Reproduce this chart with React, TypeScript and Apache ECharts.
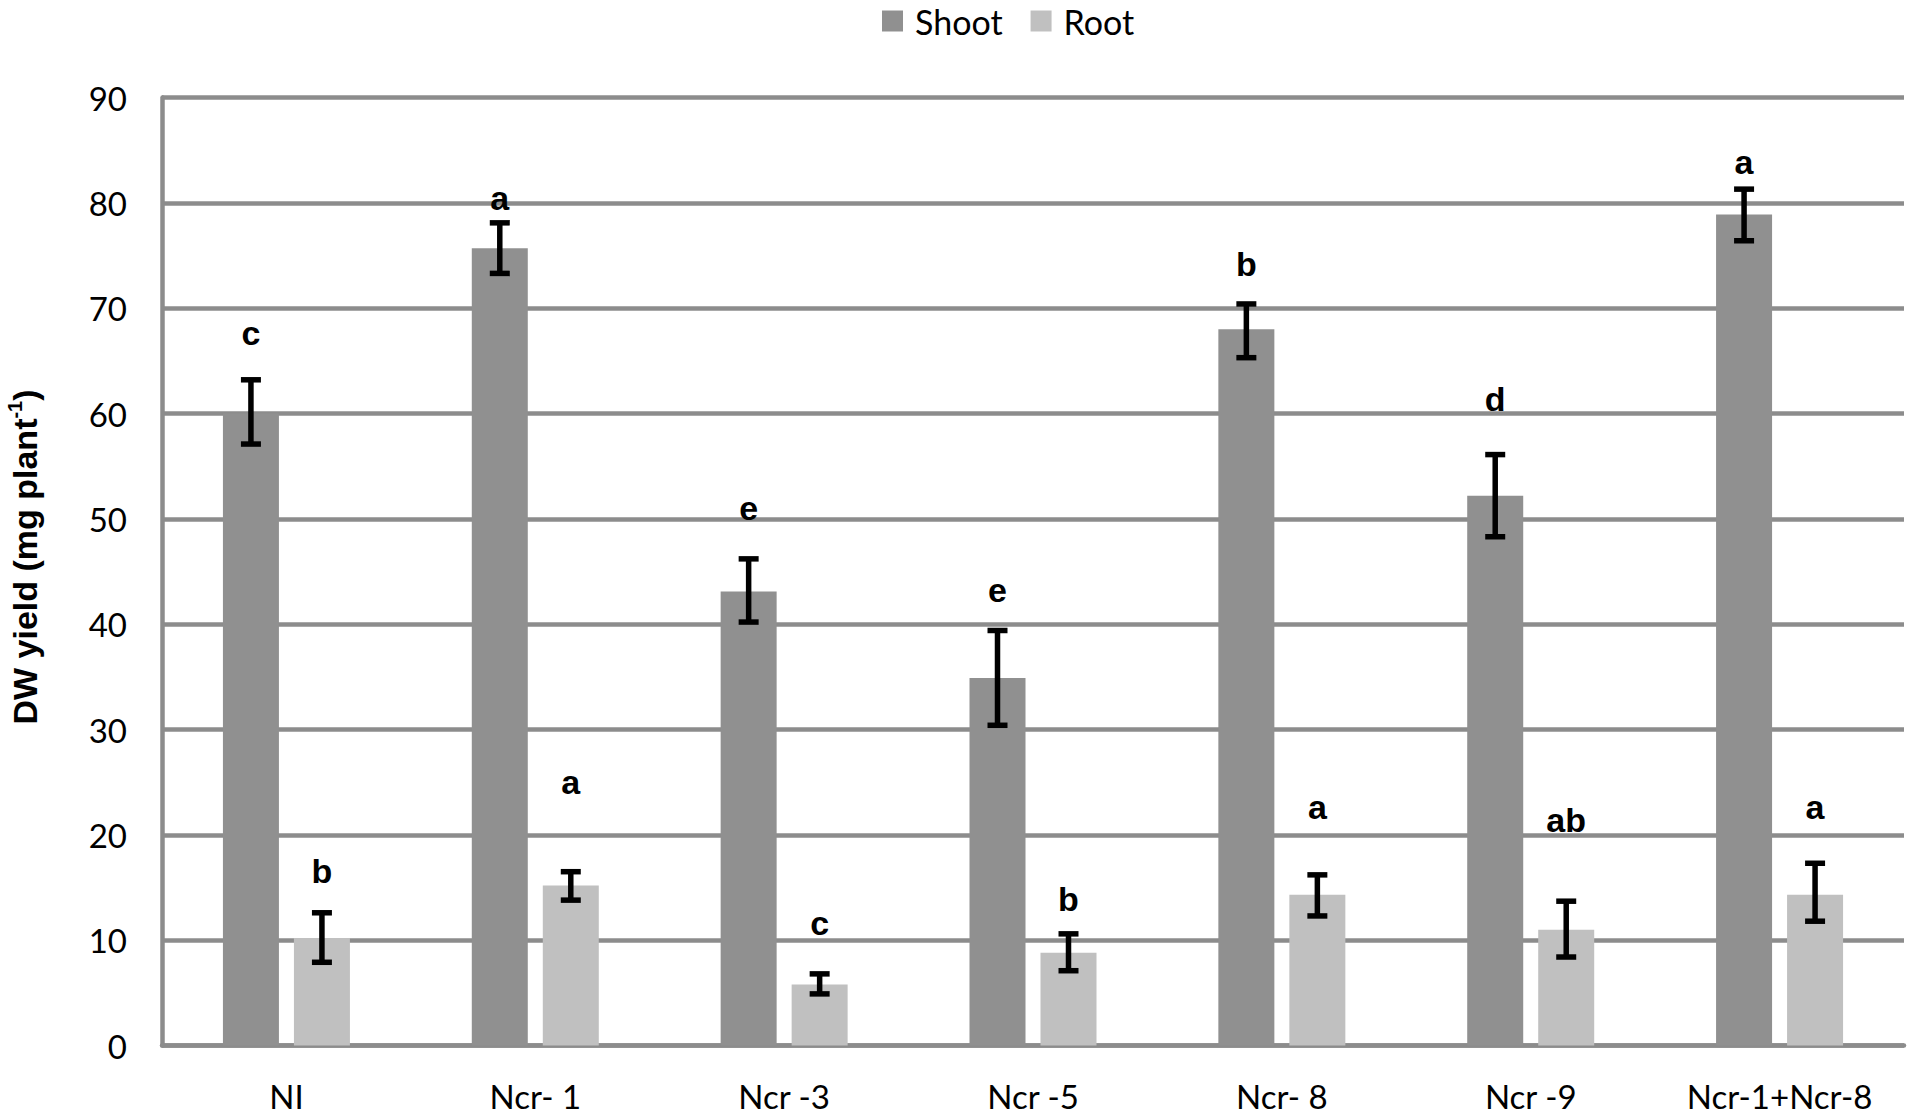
import React, { useEffect, useRef } from "react";
import * as echarts from "echarts";

const categories = ["NI", "Ncr- 1", "Ncr -3", "Ncr -5", "Ncr- 8", "Ncr -9", "Ncr-1+Ncr-8"];
const shootValues = [60.0, 75.7, 43.1, 34.9, 68.0, 52.2, 78.9];
const shootErrLow = [57.1, 73.3, 40.2, 30.4, 65.3, 48.3, 76.4];
const shootErrHigh = [63.2, 78.1, 46.2, 39.4, 70.4, 56.1, 81.3];
const shootLetters = ["c", "a", "e", "e", "b", "d", "a"];
const shootLetterY = [67.6, 80.5, 51.0, 43.2, 74.2, 61.4, 83.9];

const rootValues = [10.2, 15.2, 5.8, 8.8, 14.3, 11.0, 14.3];
const rootErrLow = [7.9, 13.8, 4.9, 7.1, 12.3, 8.4, 11.8];
const rootErrHigh = [12.6, 16.5, 6.8, 10.6, 16.2, 13.7, 17.3];
const rootLetters = ["b", "a", "c", "b", "a", "ab", "a"];
const rootLetterY = [16.6, 25.0, 11.6, 13.9, 22.6, 21.4, 22.6];

const yTicks = { min: 0, max: 90, interval: 10 };
const yTitle = "{b|DW yield (mg plant}{s|-1}{b|)}";

const GRID_COLOR = "#8c8c8c";
const SHOOT_COLOR = "#909090";
const ROOT_COLOR = "#c0c0c0";
const BAR_WIDTH = 56;
const BAR_GAP_PX = 15;
const OFFSET = (BAR_WIDTH + BAR_GAP_PX) / 2;

function errorSeries(name: string, low: number[], high: number[], letters: string[], letterY: number[], dir: number) {
  return {
    type: "custom",
    name: name + " err",
    z: 5,
    silent: true,
    encode: { x: 0, y: [1, 2, 3] },
    data: categories.map((_, i) => [i, low[i], high[i], letterY[i]]),
    renderItem: (params: any, api: any) => {
      const x = api.value(0);
      const pLo = api.coord([x, api.value(1)]);
      const pHi = api.coord([x, api.value(2)]);
      const pL = api.coord([x, api.value(3)]);
      const cx = pLo[0] + dir * OFFSET;
      const lineStyle = { stroke: "#000", lineWidth: 5.5 };
      return {
        type: "group",
        children: [
          { type: "line", shape: { x1: cx, y1: pLo[1], x2: cx, y2: pHi[1] }, style: lineStyle },
          { type: "line", shape: { x1: cx - 10, y1: pLo[1], x2: cx + 10, y2: pLo[1] }, style: lineStyle },
          { type: "line", shape: { x1: cx - 10, y1: pHi[1], x2: cx + 10, y2: pHi[1] }, style: lineStyle },
          {
            type: "text",
            style: {
              text: letters[params.dataIndex],
              x: cx,
              y: pL[1],
              align: "center",
              verticalAlign: "middle",
              fontSize: 34,
              fontWeight: "bold",
              fontFamily: "Liberation Sans",
              fill: "#000",
            },
          },
        ],
      };
    },
  };
}

export default function App() {
  const ref = useRef<HTMLDivElement>(null);
  useEffect(() => {
    document.body.style.margin = "0";
    document.body.style.overflow = "hidden";
    const chart = echarts.init(ref.current!, null, { renderer: "svg" });
    chart.setOption({
      animation: false,
      backgroundColor: "#ffffff",
      legend: {
        data: ["Shoot", "Root"],
        left: 882,
        top: 4,
        padding: 0,
        icon: "rect",
        itemWidth: 21,
        itemHeight: 21,
        itemGap: 28,
        textStyle: { fontFamily: "Lato", fontSize: 34, color: "#000", padding: [0, 0, 0, 7] },
      },
      graphic: [
        {
          type: "text",
          x: 25,
          y: 557,
          rotation: Math.PI / 2,
          style: {
            text: yTitle,
            align: "center",
            verticalAlign: "middle",
            rich: {
              b: { fontFamily: "Liberation Sans", fontWeight: "bold", fontSize: 34, fill: "#000", lineHeight: 40 },
              s: { fontFamily: "Liberation Sans", fontWeight: "bold", fontSize: 20, fill: "#000", verticalAlign: "top", lineHeight: 40 },
            },
          },
        },
      ],
      grid: { left: 162, right: 6, top: 97.5, bottom: 70.5, containLabel: false },
      xAxis: {
        type: "category",
        data: categories,
        axisLine: { show: true, lineStyle: { color: GRID_COLOR, width: 4.5 } },
        axisTick: { show: false },
        axisLabel: { fontFamily: "Lato", fontSize: 33, color: "#000", margin: 34, interval: 0 },
      },
      yAxis: {
        type: "value",
        min: yTicks.min,
        max: yTicks.max,
        interval: yTicks.interval,
        axisLine: { show: true, lineStyle: { color: GRID_COLOR, width: 4.5 } },
        axisTick: { show: false },
        axisLabel: { fontFamily: "Lato", fontSize: 33, color: "#000", margin: 35 },
        splitLine: { show: true, lineStyle: { color: GRID_COLOR, width: 4.5 } },
      },
      series: [
        {
          name: "Shoot",
          type: "bar",
          data: shootValues,
          barWidth: BAR_WIDTH,
          barGap: (BAR_GAP_PX / BAR_WIDTH) * 100 + "%",
          itemStyle: { color: SHOOT_COLOR },
          z: 3,
        },
        {
          name: "Root",
          type: "bar",
          data: rootValues,
          barWidth: BAR_WIDTH,
          itemStyle: { color: ROOT_COLOR },
          z: 3,
        },
        errorSeries("Shoot", shootErrLow, shootErrHigh, shootLetters, shootLetterY, -1),
        errorSeries("Root", rootErrLow, rootErrHigh, rootLetters, rootLetterY, 1),
      ],
    });
    return () => chart.dispose();
  }, []);
  return <div ref={ref} style={{ width: 1910, height: 1116 }} />;
}
